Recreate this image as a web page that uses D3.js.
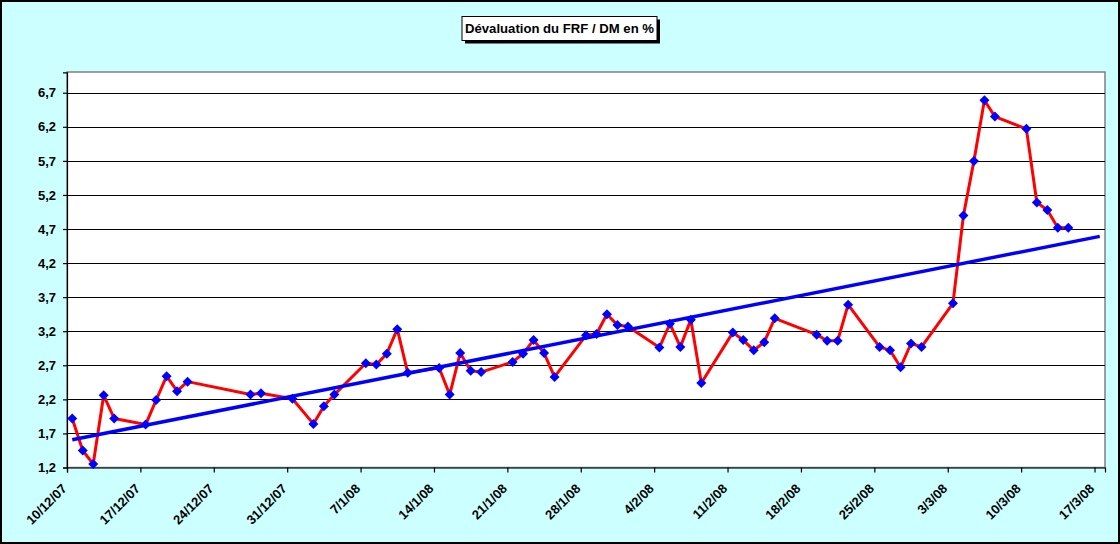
<!DOCTYPE html>
<html>
<head>
<meta charset="utf-8">
<script src="https://cdn.jsdelivr.net/npm/d3@7"></script>
<style>
html,body{margin:0;padding:0;background:#CCFFFF;}
svg{display:block;}
</style>
</head>
<body>
<svg id="chart" width="1120" height="544"></svg>
<script>
// ---- data ----
const dates = [
  "10/12/07","11/12/07","12/12/07","13/12/07","14/12/07",
  "17/12/07","18/12/07","19/12/07","20/12/07","21/12/07",
  "27/12/07","28/12/07","31/12/07",
  "2/1/08","3/1/08","4/1/08",
  "7/1/08","8/1/08","9/1/08","10/1/08","11/1/08",
  "14/1/08","15/1/08","16/1/08","17/1/08","18/1/08",
  "21/1/08","22/1/08","23/1/08","24/1/08","25/1/08",
  "28/1/08","29/1/08","30/1/08","31/1/08","1/2/08",
  "4/2/08","5/2/08","6/2/08","7/2/08","8/2/08",
  "11/2/08","12/2/08","13/2/08","14/2/08","15/2/08",
  "19/2/08","20/2/08","21/2/08","22/2/08",
  "25/2/08","26/2/08","27/2/08","28/2/08","29/2/08",
  "3/3/08","4/3/08","5/3/08","6/3/08","7/3/08",
  "10/3/08","11/3/08","12/3/08","13/3/08","14/3/08"
];
const values = [
  1.92,1.45,1.25,2.26,1.92,
  1.83,2.19,2.54,2.32,2.46,
  2.27,2.29,2.21,
  1.84,2.10,2.27,
  2.73,2.71,2.87,3.23,2.59,
  2.66,2.27,2.88,2.62,2.60,
  2.75,2.87,3.07,2.88,2.53,
  3.14,3.16,3.45,3.29,3.27,
  2.96,3.31,2.97,3.37,2.44,
  3.18,3.07,2.92,3.04,3.39,
  3.15,3.06,3.06,3.59,
  2.97,2.92,2.67,3.02,2.97,
  3.61,4.90,5.70,6.59,6.35,
  6.17,5.09,4.98,4.72,4.72
];
const tickLabels = ["10/12/07","17/12/07","24/12/07","31/12/07","7/1/08","14/1/08","21/1/08",
  "28/1/08","4/2/08","11/2/08","18/2/08","25/2/08","3/3/08","10/3/08","17/3/08"];
const yTicks = [1.2,1.7,2.2,2.7,3.2,3.7,4.2,4.7,5.2,5.7,6.2,6.7];
const title = "Dévaluation du FRF / DM en %";
const yMin = 1.2, yMax = 7.0;
const axisStart = "10/12/07", axisEnd = "18/3/08";
const trendForward = 3; // days of forward forecast

// ---- helpers ----
function parse(s){
  const [d,m,y] = s.split("/").map(Number);
  return new Date(Date.UTC(2000+y, m-1, d));
}
const DAY = 864e5;
const pts = dates.map((s,i)=>({date: parse(s), mid: new Date(parse(s).getTime()+DAY/2), v: values[i]}));

// ---- layout ----
const L = 67, R = 1105, T = 72, B = 467.5;
const svg = d3.select("#chart");

const x = d3.scaleUtc().domain([parse(axisStart), parse(axisEnd)]).range([L, R]);
const y = d3.scaleLinear().domain([yMin, yMax]).range([B, T + 0.3]);

// background & outer border
svg.append("rect").attr("x",1).attr("y",1).attr("width",1118).attr("height",542)
  .attr("fill","#CCFFFF").attr("stroke","#000").attr("stroke-width",2);

// plot area
svg.append("rect").attr("x",L).attr("y",T).attr("width",R-L).attr("height",B-T)
  .attr("fill","#fff").attr("stroke","#808080").attr("stroke-width",1.5);

// gridlines
svg.append("g").selectAll("line").data(yTicks.filter(v=>v>yMin)).join("line")
  .attr("x1",L).attr("x2",R).attr("y1",d=>Math.round(y(d))+0.5).attr("y2",d=>Math.round(y(d))+0.5)
  .attr("stroke","#000").attr("stroke-width",1.2);

// y axis
const yAxis = d3.axisLeft(y).tickValues(yTicks).tickSize(4).tickPadding(7)
  .tickFormat(d=>d3.format(".1f")(d).replace(".",","));
const gy = svg.append("g").attr("transform",`translate(${L},0)`).call(yAxis);
gy.select(".domain").attr("stroke","#000").attr("stroke-width",1.2);
gy.selectAll(".tick line").attr("stroke","#000").attr("stroke-width",1.2);
gy.selectAll("text").attr("font-family","Liberation Sans, Arial, sans-serif")
  .attr("font-size",13).attr("font-weight","bold").attr("fill","#000");

// x axis
const tickDates = tickLabels.map(parse);
const xAxis = d3.axisBottom(x).tickValues(tickDates).tickSize(5)
  .tickFormat((d,i)=>tickLabels[i]);
const gx = svg.append("g").attr("transform",`translate(0,${B})`).call(xAxis);
gx.select(".domain").attr("stroke","#000").attr("stroke-width",1.2);
gx.selectAll(".tick line").attr("stroke","#000").attr("stroke-width",1.2);
gx.selectAll("text")
  .attr("font-family","Liberation Sans, Arial, sans-serif")
  .attr("font-size",13).attr("font-weight","bold").attr("fill","#000")
  .attr("text-anchor","end").attr("x",0).attr("y",0).attr("dy",0)
  .attr("transform","translate(0,22) rotate(-45)");

// data line
const line = d3.line().x(d=>x(d.mid)).y(d=>y(d.v));
svg.append("path").datum(pts).attr("d",line).attr("fill","none")
  .attr("stroke","#FF0000").attr("stroke-width",3).attr("stroke-linejoin","round");

// markers
svg.append("g").selectAll("path").data(pts).join("path")
  .attr("d", d3.symbol().type(d3.symbolSquare).size(50))
  .attr("transform", d=>`translate(${x(d.mid)},${y(d.v)}) rotate(45)`)
  .attr("fill","#0000FF");

// linear trend line (least squares on days)
const t0 = pts[0].mid.getTime();
const xs = pts.map(p=>(p.mid.getTime()-t0)/DAY), ys = pts.map(p=>p.v);
const mx = d3.mean(xs), my = d3.mean(ys);
const slope = d3.sum(xs.map((xv,i)=>(xv-mx)*(ys[i]-my))) / d3.sum(xs.map(xv=>(xv-mx)*(xv-mx)));
const icpt = my - slope*mx;
const xEnd = xs[xs.length-1] + trendForward;
const trend = [0, xEnd].map(dx=>({mid:new Date(t0+dx*DAY), v: icpt+slope*dx}));
svg.append("path").datum(trend).attr("d",line).attr("fill","none")
  .attr("stroke","#0000FF").attr("stroke-width",3.5);

// title box
const tg = svg.append("g");
const bx = 462, by = 16.5, bw = 195, bh = 24;
tg.append("rect").attr("x",bx+3).attr("y",by+3).attr("width",bw).attr("height",bh).attr("fill","#000");
tg.append("rect").attr("x",bx).attr("y",by).attr("width",bw).attr("height",bh)
  .attr("fill","#fff").attr("stroke","#000").attr("stroke-width",1);
tg.append("text").attr("x",bx+bw/2).attr("y",by+16).attr("text-anchor","middle")
  .attr("font-family","Liberation Sans, Arial, sans-serif").attr("font-size",13.5)
  .attr("font-weight","bold")
  .attr("fill","#000").attr("textLength",189).attr("lengthAdjust","spacingAndGlyphs")
  .text(title);
</script>
</body>
</html>
